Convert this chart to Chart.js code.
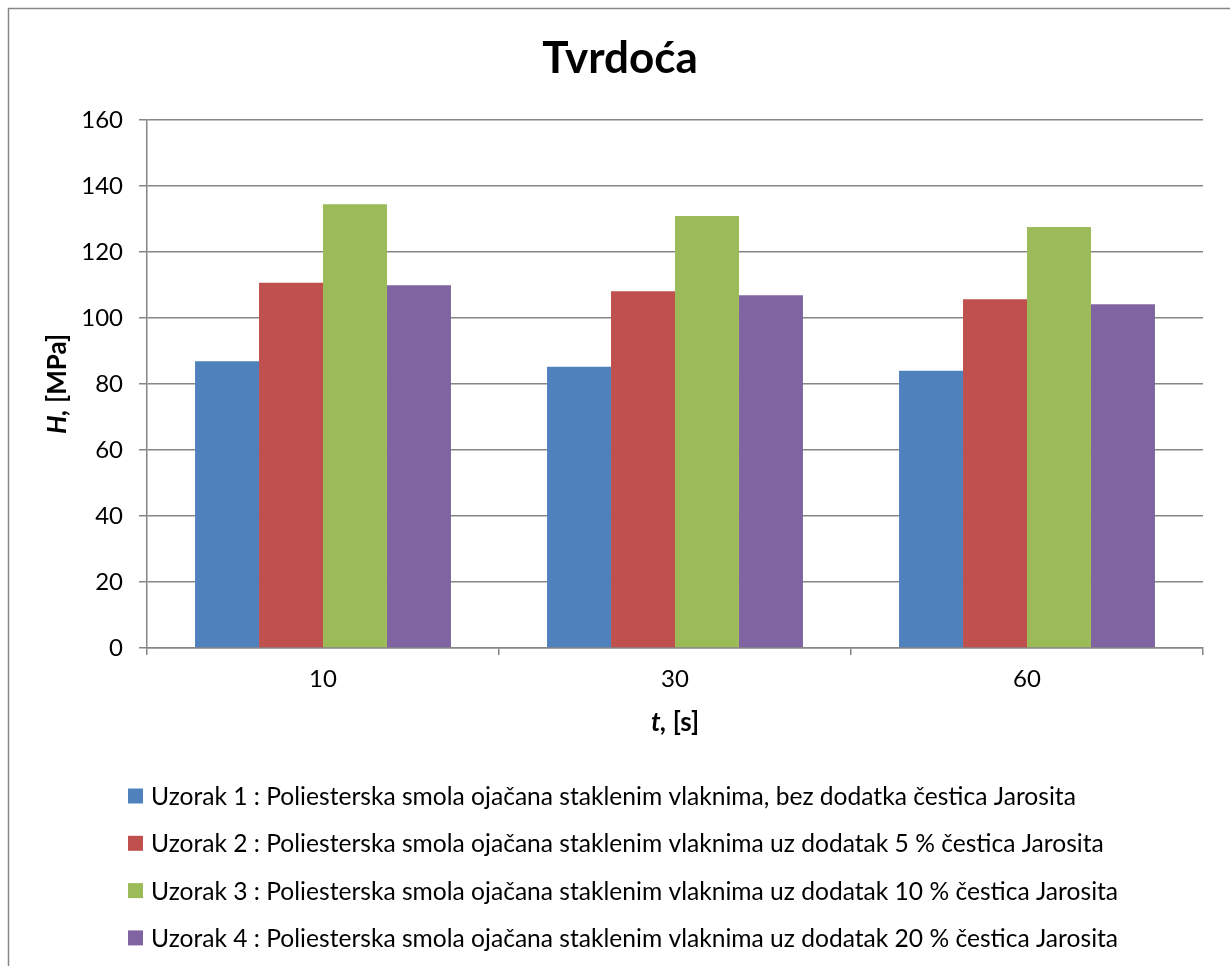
<!DOCTYPE html>
<html>
<head>
<meta charset="utf-8">
<script src="https://cdn.jsdelivr.net/npm/chart.js@4"></script>
<style>
html,body{margin:0;padding:0;background:#fff;}
#wrap{position:relative;width:1230px;height:966px;}
</style>
</head>
<body>
<div id="wrap"><canvas id="c" width="1230" height="966"></canvas></div>
<script>
const chartTitle = 'Tvrdoća';
const categories = ['10', '30', '60'];
const seriesNames = [
  'Uzorak 1 : Poliesterska smola ojačana staklenim vlaknima, bez dodatka čestica Jarosita',
  'Uzorak 2 : Poliesterska smola ojačana staklenim vlaknima uz dodatak 5 % čestica Jarosita',
  'Uzorak 3 : Poliesterska smola ojačana staklenim vlaknima uz dodatak 10 % čestica Jarosita',
  'Uzorak 4 : Poliesterska smola ojačana staklenim vlaknima uz dodatak 20 % čestica Jarosita'
];
const uzorak1 = [86.9, 85.2, 84.0];
const uzorak2 = [110.7, 108.1, 105.7];
const uzorak3 = [134.5, 130.9, 127.6];
const uzorak4 = [109.9, 106.9, 104.2];
const seriesColors = ['#4F81BD', '#C0504D', '#9BBB59', '#8064A2'];
const yTicks = [0, 20, 40, 60, 80, 100, 120, 140, 160];
const yTitleItalic = 'H,';
const yTitleRest = ' [MPa]';
const xTitleItalic = 't,';
const xTitleRest = ' [s]';

const FONT = 'Lato';
const seriesValues = [uzorak1, uzorak2, uzorak3, uzorak4];

const decor = {
  id: 'decor',
  beforeDraw(chart) {
    const ctx = chart.ctx;
    ctx.save();
    ctx.fillStyle = '#fff';
    ctx.fillRect(0, 0, chart.width, chart.height);
    ctx.strokeStyle = '#868686';
    ctx.lineWidth = 1.5;
    ctx.beginPath();
    ctx.moveTo(8.5, chart.height + 5);
    ctx.lineTo(8.5, 8.5);
    ctx.lineTo(chart.width + 5, 8.5);
    ctx.stroke();
    ctx.restore();
  },
  afterDraw(chart) {
    const ctx = chart.ctx;
    const area = chart.chartArea;
    ctx.save();
    ctx.fillStyle = '#000';
    ctx.textBaseline = 'middle';
    // title
    ctx.font = 'bold 44px ' + FONT;
    ctx.textAlign = 'center';
    ctx.fillText(chartTitle, 620, 59);
    // x title (mixed italic)
    ctx.textAlign = 'left';
    const fi = 'italic bold 26px ' + FONT, fb = 'bold 26px ' + FONT;
    ctx.font = fi; const w1 = ctx.measureText(xTitleItalic).width;
    ctx.font = fb; const w2 = ctx.measureText(xTitleRest).width;
    let x0 = (area.left + area.right) / 2 - (w1 + w2) / 2;
    ctx.font = fi; ctx.fillText(xTitleItalic, x0, 723);
    ctx.font = fb; ctx.fillText(xTitleRest, x0 + w1, 723);
    // y title rotated
    ctx.save();
    ctx.translate(58, (area.top + area.bottom) / 2);
    ctx.rotate(-Math.PI / 2);
    ctx.font = fi; const v1 = ctx.measureText(yTitleItalic).width;
    ctx.font = fb; const v2 = ctx.measureText(yTitleRest).width;
    x0 = -(v1 + v2) / 2;
    ctx.font = fi; ctx.fillText(yTitleItalic, x0, 0);
    ctx.font = fb; ctx.fillText(yTitleRest, x0 + v1, 0);
    ctx.restore();
    // legend
    ctx.font = '24.6px ' + FONT;
    chart.data.datasets.forEach((ds, i) => {
      const y = 796 + i * 47.3;
      ctx.fillStyle = ds.backgroundColor;
      ctx.fillRect(128, y - 7.5, 15, 15);
      ctx.fillStyle = '#000';
      ctx.fillText(ds.label, 151, y + 1);
    });
    ctx.restore();
  }
};

new Chart(document.getElementById('c'), {
  type: 'bar',
  data: {
    labels: categories,
    datasets: seriesNames.map((n, i) => ({
      label: n,
      data: seriesValues[i],
      backgroundColor: seriesColors[i],
      borderWidth: 0,
      barPercentage: 1,
      categoryPercentage: 0.727
    }))
  },
  options: {
    responsive: false,
    animation: false,
    devicePixelRatio: 1,
    layout: { padding: { left: 0, right: 27, top: 120, bottom: 0 } },
    plugins: { legend: { display: false }, title: { display: false }, tooltip: { enabled: false } },
    scales: {
      x: {
        grid: { display: true, offset: true, drawOnChartArea: false, drawTicks: true, tickLength: 7, color: '#868686', lineWidth: 1.5 },
        border: { display: true, color: '#868686', width: 1.5 },
        ticks: { color: '#000', font: { family: FONT, size: 24 }, padding: 10 },
        afterFit(s) { s.height = 318; }
      },
      y: {
        min: 0, max: 160,
        afterBuildTicks(s) { s.ticks = yTicks.map(v => ({ value: v })); },
        grid: { color: '#868686', lineWidth: 1.5, tickLength: 8 },
        border: { display: true, color: '#868686', width: 1.5 },
        ticks: { color: '#000', font: { family: FONT, size: 24 }, padding: 16 },
        afterFit(s) { s.width = 147; }
      }
    }
  },
  plugins: [decor]
});
</script>
</body>
</html>
